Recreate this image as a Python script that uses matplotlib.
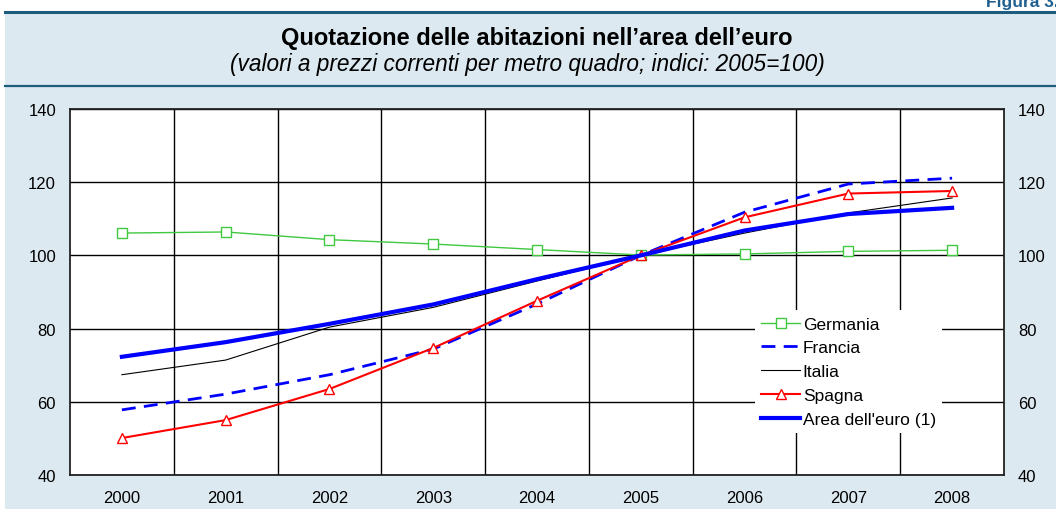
import matplotlib
matplotlib.use("Agg")
import matplotlib.pyplot as plt
from matplotlib.patches import Rectangle
from matplotlib.lines import Line2D

plt.rcParams['font.family'] = ['Liberation Sans', 'DejaVu Sans']

years = ['2000', '2001', '2002', '2003', '2004', '2005', '2006', '2007', '2008']
germania = [106.1, 106.4, 104.3, 103.1, 101.6, 100.1, 100.4, 101.1, 101.4]
francia = [57.8, 62.1, 67.4, 74.4, 86.7, 100.0, 111.8, 119.5, 121.1]
italia = [67.4, 71.4, 80.4, 85.8, 93.0, 100.0, 106.1, 111.6, 115.7]
spagna = [50.1, 55.0, 63.5, 74.7, 87.6, 100.0, 110.4, 116.9, 117.6]
euro = [72.3, 76.3, 81.3, 86.6, 93.5, 100.0, 106.8, 111.3, 113.0]
yticks = [40, 60, 80, 100, 120, 140]

W, H = 1056, 510
fig = plt.figure(figsize=(W / 100, H / 100), dpi=100, facecolor='white')

bg = '#dde9f1'
teal = '#1e5c7e'
fig.patches.append(Rectangle((5 / W, 0), 1 - 5 / W, 1 - 13 / H, transform=fig.transFigure,
                             facecolor=bg, edgecolor='none', zorder=-5))
fig.lines.append(Line2D([5 / W, 1], [1 - 13 / H, 1 - 13 / H], transform=fig.transFigure,
                        color=teal, lw=2.2, zorder=-4))
fig.lines.append(Line2D([5 / W, 1], [1 - 87 / H, 1 - 87 / H], transform=fig.transFigure,
                        color=teal, lw=1.6, zorder=-4))

fig.text(986 / W, 1 - 7 / H, 'Figura 3.', color='#1f5f8f', fontsize=12.5, fontweight='bold',
         ha='left', va='baseline')
fig.text(537 / W, 1 - 38 / H, 'Quotazione delle abitazioni nell\u2019area dell\u2019euro',
         fontsize=17, fontweight='bold', ha='center', va='center')
fig.text(527 / W, 1 - 65 / H, '(valori a prezzi correnti per metro quadro; indici: 2005=100)',
         fontsize=16.3, fontstyle='italic', ha='center', va='center')

ax = fig.add_axes([70 / W, 1 - 476 / H, (1004 - 70) / W, (476 - 110) / H])
ax.set_facecolor('white')
x = list(range(len(years)))

ax.plot(x, germania, color='#40c840', lw=1.0, marker='s', markersize=6.5,
        markerfacecolor='white', markeredgecolor='#40c840', markeredgewidth=1.0, label='Germania')
ax.plot(x, francia, color='#0000ff', lw=2.0, dashes=(5, 3), label='Francia')
ax.plot(x, italia, color='black', lw=0.8, label='Italia')
ax.plot(x, spagna, color='#ff0000', lw=1.5, marker='^', markersize=6.5,
        markerfacecolor='white', markeredgecolor='#ff0000', markeredgewidth=1.0, label='Spagna')
ax.plot(x, euro, color='#0000ff', lw=3.0, label="Area dell'euro (1)")

ax.set_xlim(-0.5, len(years) - 0.5)
ax.set_ylim(40, 140)
ax.set_xticks(x)
ax.set_xticklabels(years)
ax.set_xticks([i + 0.5 for i in x[:-1]], minor=True)
ax.set_yticks(yticks)
ax.grid(True, axis='y', which='major', color='black', lw=1.0, zorder=0)
ax.grid(True, axis='x', which='minor', color='black', lw=1.0, zorder=0)
ax.set_axisbelow(True)
ax.tick_params(axis='both', which='both', length=0, labelsize=12)
ax.tick_params(axis='y', labelright=True, pad=10)
ax.tick_params(axis='x', pad=11)
for s in ax.spines.values():
    s.set_color('#222222')
    s.set_linewidth(1.3)

leg = ax.legend(loc='lower left', bbox_to_anchor=((755 - 70) / 934, (476 - 434) / 366),
                frameon=True, fancybox=False, framealpha=1, fontsize=12.5,
                handlelength=2.25, handletextpad=0.15, labelspacing=0.5,
                borderpad=0.35, borderaxespad=0)
leg.get_frame().set_edgecolor('none')
leg.get_frame().set_facecolor('white')

fig.savefig('out.png', dpi=100, facecolor='white')
